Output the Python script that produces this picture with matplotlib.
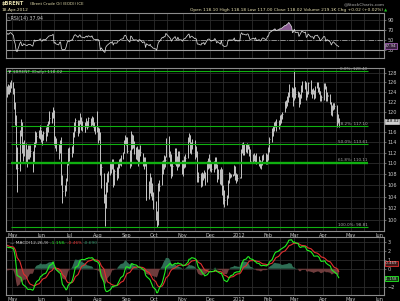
import numpy as np
import pandas as pd
import matplotlib
matplotlib.use('Agg')
import matplotlib.pyplot as plt
import matplotlib.dates as mdates
from matplotlib.offsetbox import TextArea, HPacker, AnchoredOffsetbox

plt.rcParams['font.family'] = ['DejaVu Sans']

# closes before the visible window (only used to warm up RSI / MACD)
warmup_close = [103.0, 101.6, 103.8, 103.0, 102.5, 105.7, 105.8, 111.3, 111.4, 112.1,
                111.8, 115.4, 116.4, 114.8, 116.0, 113.1, 113.0, 115.9, 115.4, 113.8,
                113.7, 108.5, 110.6, 114.9, 114.0, 114.6, 115.6, 115.8, 115.6, 115.6,
                115.0, 115.2, 115.9, 117.4, 118.7, 120.1, 122.2, 122.3, 122.7, 126.7,
                123.9, 120.9, 121.8, 121.9, 123.5, 121.6, 123.2, 123.9, 123.4, 123.4]

# daily bars 25-Apr-2011 .. 18-Apr-2012 (one row per week)
close = [124.1, 124.9, 124.5, 125.5, 125.9,
         124.6, 121.4, 118.7, 110.8, 109.1,
         115.9, 117.7, 112.6, 111.9, 113.9,
         111.5, 111.4, 112.2, 112.4, 112.4,
         110.3, 113.3, 115.7, 114.5, 115.1,
         115.5, 116.7, 115.0, 114.5, 115.8,
         115.8, 116.8, 117.4, 118.6, 118.8,
         119.4, 120.2, 113.9, 114.5, 113.2,
         112.2, 113.9, 114.2, 107.3, 105.1,
         105.4, 107.0, 109.9, 112.5, 111.3,
         112.8, 113.1, 115.5, 117.6, 118.3,
         116.2, 117.9, 118.9, 117.3, 117.2,
         116.6, 117.6, 118.2, 117.5, 118.7,
         117.9, 118.9, 117.5, 116.7, 116.7,
         116.5, 116.5, 115.2, 108.2, 109.4,
         104.0, 102.6, 106.2, 107.3, 108.0,
         109.9, 109.4, 110.6, 106.9, 108.6,
         108.4, 109.9, 110.2, 110.7, 111.4,
         112.0, 114.2, 114.9, 114.3, 112.3,
         110.1, 115.4, 114.9, 113.3, 112.2,
         112.3, 112.0, 110.9, 112.4, 112.2,
         110.0, 110.7, 110.4, 105.5, 108.0,
         106.0, 107.0, 104.6, 104.1, 102.8,
         101.6, 99.8, 102.7, 105.7, 105.9,
         109.9, 109.5, 110.8, 110.6, 114.4,
         112.1, 111.2, 110.2, 107.9, 109.6,
         112.4, 110.1, 109.7, 112.1, 109.9,
         109.6, 108.4, 110.2, 110.6, 111.0,
         114.6, 115.4, 112.4, 113.7, 114.2,
         112.4, 112.6, 111.9, 107.6, 107.6,
         106.6, 108.0, 107.6, 108.2, 106.4,
         110.0, 110.5, 110.5, 109.6, 109.0,
         109.8, 110.8, 109.6, 107.7, 108.6,
         106.6, 109.0, 105.0, 104.4, 103.4,
         103.7, 106.7, 108.0, 107.9, 107.9,
         107.9, 109.3, 107.3, 107.9, 107.4,
         107.4, 112.1, 113.7, 112.7, 113.1,
         112.5, 113.5, 113.4, 112.0, 110.4,
         111.1, 111.3, 110.7, 111.6, 110.0,
         110.6, 109.8, 110.0, 111.1, 111.5,
         110.7, 110.9, 112.5, 112.5, 114.6,
         116.2, 116.7, 117.2, 117.9, 117.3,
         117.9, 118.6, 118.6, 119.0, 119.6,
         121.7, 121.7, 122.9, 123.6, 125.5,
         124.2, 122.0, 122.7, 125.0, 123.6,
         123.8, 121.8, 123.1, 124.4, 126.0,
         125.4, 125.9, 123.1, 123.9, 125.8,
         124.1, 124.2, 124.2, 123.1, 125.1,
         125.7, 124.7, 124.2, 122.6, 122.9,
         125.4, 125.1, 122.5, 123.4, 123.4,
         121.9, 119.9, 120.9, 121.7, 121.2,
         119.0, 118.7, 118.02]

high = [125.3, 125.6, 125.4, 126.1, 126.6,
        126.2, 124.9, 121.9, 119.4, 113.0,
        116.4, 118.6, 117.9, 114.1, 114.4,
        113.9, 112.6, 113.5, 113.4, 113.5,
        112.4, 114.0, 116.2, 115.9, 115.8,
        116.3, 117.3, 116.4, 115.6, 116.2,
        116.9, 117.5, 118.2, 119.7, 120.1,
        119.9, 120.9, 120.4, 115.2, 114.8,
        113.6, 114.4, 115.0, 114.5, 107.9,
        106.1, 107.4, 110.2, 112.8, 113.0,
        113.2, 113.6, 116.0, 118.0, 118.8,
        118.3, 118.4, 119.8, 119.0, 118.1,
        117.6, 118.0, 118.7, 118.2, 119.0,
        118.8, 119.2, 119.0, 117.9, 117.1,
        120.1, 117.0, 116.7, 115.9, 110.3,
        108.3, 104.5, 106.6, 108.3, 108.6,
        110.1, 110.1, 110.8, 110.8, 109.0,
        109.3, 110.1, 110.9, 111.0, 111.6,
        112.2, 114.4, 115.4, 115.0, 115.0,
        112.5, 116.2, 115.5, 115.3, 114.2,
        113.0, 113.2, 112.6, 112.6, 113.5,
        112.0, 111.2, 111.2, 110.0, 108.4,
        106.8, 108.2, 107.6, 106.5, 104.9,
        103.3, 101.6, 102.9, 106.5, 106.9,
        110.4, 110.6, 111.5, 111.3, 114.8,
        115.2, 112.3, 111.8, 110.6, 110.0,
        112.9, 112.8, 111.4, 112.3, 112.3,
        110.6, 109.8, 110.6, 111.4, 111.7,
        114.9, 115.7, 115.3, 114.1, 114.6,
        114.4, 113.2, 113.3, 112.3, 108.4,
        108.3, 108.4, 108.3, 108.7, 108.5,
        110.4, 111.0, 111.7, 110.6, 110.0,
        110.4, 111.1, 111.2, 109.8, 109.0,
        109.0, 109.4, 108.9, 106.0, 105.2,
        104.4, 106.9, 108.4, 108.2, 108.1,
        108.1, 109.7, 109.6, 108.3, 108.1,
        107.6, 112.6, 113.8, 114.0, 113.7,
        113.6, 113.9, 113.6, 113.3, 112.6,
        111.7, 111.9, 111.6, 112.0, 111.8,
        111.3, 110.7, 110.5, 111.6, 111.8,
        112.0, 111.7, 112.7, 113.0, 114.9,
        116.8, 117.1, 117.9, 118.2, 118.6,
        118.3, 119.2, 119.4, 119.5, 120.0,
        122.2, 122.3, 123.1, 124.1, 125.7,
        125.1, 124.9, 123.6, 128.4, 125.0,
        124.2, 124.1, 123.5, 125.4, 126.3,
        126.3, 126.4, 126.0, 124.3, 126.1,
        126.6, 124.7, 124.9, 124.4, 125.3,
        126.0, 126.0, 125.0, 124.3, 123.3,
        125.9, 125.8, 125.3, 123.9, 123.4,
        123.5, 121.9, 121.3, 121.7, 121.8,
        121.3, 119.5, 118.8]

low = [123.0, 123.6, 123.5, 124.0, 124.8,
       123.6, 120.6, 117.3, 109.0, 104.8,
       108.6, 115.2, 111.9, 110.5, 111.4,
       110.3, 109.4, 110.9, 110.9, 111.2,
       108.5, 110.1, 113.1, 113.8, 114.1,
       114.8, 114.6, 114.0, 113.5, 114.4,
       114.3, 115.2, 115.9, 117.5, 117.7,
       117.8, 118.8, 113.5, 112.8, 112.3,
       110.8, 111.9, 113.1, 106.0, 102.9,
       104.1, 105.0, 106.8, 109.7, 110.5,
       111.2, 111.9, 112.6, 115.0, 116.1,
       115.1, 115.7, 117.6, 116.4, 116.1,
       116.0, 116.0, 117.0, 116.6, 117.0,
       117.2, 117.4, 117.0, 116.2, 115.6,
       116.0, 113.9, 114.4, 107.9, 105.5,
       103.0, 99.0, 102.1, 104.9, 106.6,
       107.9, 108.3, 108.9, 105.8, 106.0,
       106.9, 107.4, 109.2, 109.7, 109.5,
       110.8, 111.9, 113.7, 113.5, 112.0,
       109.1, 109.6, 112.6, 112.9, 111.7,
       110.9, 110.6, 109.6, 110.0, 111.4,
       109.6, 109.0, 109.5, 103.5, 103.5,
       103.6, 104.6, 104.1, 103.5, 101.9,
       100.0, 98.81, 99.2, 102.5, 105.0,
       106.0, 108.0, 109.0, 109.4, 111.1,
       111.2, 109.5, 109.6, 107.3, 107.7,
       109.8, 109.5, 108.8, 109.4, 109.5,
       108.1, 107.7, 108.5, 109.2, 109.3,
       111.0, 114.0, 112.0, 111.8, 112.6,
       112.0, 110.8, 111.1, 106.6, 106.6,
       105.7, 105.9, 106.9, 107.3, 106.0,
       106.7, 108.9, 109.2, 108.6, 108.5,
       108.4, 109.0, 109.2, 106.7, 107.1,
       106.3, 106.0, 104.4, 102.8, 102.3,
       102.6, 103.8, 106.4, 107.3, 107.6,
       107.7, 107.8, 107.0, 106.5, 106.8,
       107.3, 107.4, 111.9, 111.6, 111.5,
       112.1, 112.0, 112.6, 111.4, 110.0,
       110.3, 110.5, 110.3, 110.5, 109.8,
       109.6, 109.2, 109.0, 109.7, 110.6,
       109.8, 109.9, 110.7, 112.0, 112.2,
       114.0, 115.2, 116.1, 116.9, 116.2,
       116.6, 117.5, 117.3, 117.8, 118.5,
       119.9, 120.8, 121.2, 122.0, 122.9,
       123.0, 121.5, 121.1, 122.3, 122.7,
       122.9, 121.0, 121.5, 122.8, 124.1,
       124.6, 124.8, 122.3, 122.9, 123.6,
       123.6, 122.8, 123.5, 122.5, 122.8,
       124.9, 124.0, 123.5, 122.2, 122.1,
       122.4, 124.6, 122.1, 122.1, 123.2,
       121.6, 119.3, 119.1, 120.3, 120.6,
       117.0, 117.7, 117.0]

fib_high = 128.40
fib_low = 98.81
fib_pcts = [0.0, 38.2, 50.0, 61.8, 100.0]
price_ticks = [100, 102, 104, 106, 108, 110, 112, 114, 116, 118, 120, 122, 124, 126, 128]
rsi_ticks = [30, 50, 70, 90]
macd_ticks = [-2, 0, 1, 2, 3]
last_close = "118.02"
last_rsi = "37.94"

BG = 'black'
GRID = '#2c2c2c'
AXC = '#8c8c8c'
TXT = '#c8c8c8'
HEAD = '#e6dfae'

dates = pd.bdate_range('2011-04-25', '2012-04-18')
warm_dates = pd.bdate_range(end='2011-04-22', periods=len(warmup_close))
s = pd.Series(warmup_close + close, index=warm_dates.append(dates))

# indicators
delta = s.diff()
up = delta.clip(lower=0).ewm(alpha=1 / 14, adjust=False).mean()
dn = (-delta.clip(upper=0)).ewm(alpha=1 / 14, adjust=False).mean()
rsi = (100 - 100 / (1 + up / dn)).loc[dates]
macd = s.ewm(span=12, adjust=False).mean() - s.ewm(span=26, adjust=False).mean()
signal = macd.ewm(span=9, adjust=False).mean()
hist = (macd - signal).loc[dates]
macd = macd.loc[dates]
signal = signal.loc[dates]

xmin, xmax = pd.Timestamp('2011-04-24'), pd.Timestamp('2012-06-06')

fig = plt.figure(figsize=(4, 3.01), dpi=100, facecolor=BG)
L, W = 6 / 400, 378 / 400
ax_rsi = fig.add_axes([L, 1 - 58 / 301, W, 45 / 301])
ax_p = fig.add_axes([L, 1 - 231 / 301, W, 163 / 301])
ax_m = fig.add_axes([L, 1 - 295 / 301, W, 58 / 301])


def style(ax, xlabels):
    ax.set_facecolor(BG)
    for sp in ax.spines.values():
        sp.set_color(AXC)
        sp.set_linewidth(0.8)
    ax.yaxis.tick_right()
    ax.tick_params(axis='y', colors=AXC, labelcolor=TXT, labelsize=3.6, length=1.5, width=0.5, pad=1)
    ax.tick_params(axis='x', which='both', colors=AXC, labelcolor=TXT, labelsize=3.6, length=0, pad=1.5)
    ax.set_xlim(xmin, xmax)
    ax.xaxis.set_major_locator(mdates.MonthLocator())
    ax.xaxis.set_minor_locator(mdates.MonthLocator(bymonthday=15))
    ax.xaxis.set_major_formatter(plt.FuncFormatter(
        lambda v, p: (lambda d: str(d.year) if d.month == 1 else d.strftime('%b'))(mdates.num2date(v))))
    if not xlabels:
        ax.set_xticklabels([])
    ax.grid(True, which='both', axis='x', color=GRID, lw=0.6)
    ax.grid(True, which='major', axis='y', color=GRID, lw=0.6)
    ax.set_axisbelow(True)


# RSI panel
style(ax_rsi, False)
ax_rsi.set_ylim(14, 104)
ax_rsi.set_yticks(rsi_ticks)
ax_rsi.axhline(70, color='#a0a0a0', lw=0.8)
ax_rsi.axhline(30, color='#a0a0a0', lw=0.8)
ax_rsi.axhline(50, color='#a0a0a0', lw=0.6, ls='-.')
ax_rsi.fill_between(dates, 70, rsi, where=rsi > 70, color='#8a5a92', lw=0, interpolate=True)
ax_rsi.plot(dates, rsi, color='#d8d8d8', lw=0.55)
ax_rsi.text(0.003, 0.93, '\u25b3RSI(14) 37.94', transform=ax_rsi.transAxes, color=TXT,
            fontsize=3.4, va='top', ha='left')
ax_rsi.text(1.003, 37.94, last_rsi, transform=ax_rsi.get_yaxis_transform(), fontsize=3.0,
            color=TXT, va='center', ha='left',
            bbox=dict(boxstyle='square,pad=0.15', fc='#3a2040', ec='#a060b0', lw=0.6))

# price panel
style(ax_p, True)
ax_p.set_yscale('log')
ax_p.set_ylim(98.2, 129.1)
ax_p.set_yticks(price_ticks)
# the 118 label sits under the last-price marker
ax_p.set_yticklabels(['' if t == 118 else str(t) for t in price_ticks])
ax_p.yaxis.set_minor_locator(plt.NullLocator())
ax_p.vlines(dates, low, high, color='#c4c4c4', lw=0.7)
ax_p.hlines(close, dates, dates + pd.Timedelta(hours=14), color='#c4c4c4', lw=0.5)
for pct in fib_pcts:
    lvl = fib_high - (fib_high - fib_low) * pct / 100
    x0 = pd.Timestamp('2011-04-24') if pct == 0 else pd.Timestamp('2011-04-29')
    ax_p.hlines(lvl, x0, pd.Timestamp('2012-05-20'), color='#10b010',
                lw=1.7 if pct == 61.8 else 0.8)
    ax_p.text(pd.Timestamp('2012-05-19'), lvl * 1.001, f'{pct:.1f}%: {lvl:.2f}',
              color='#a8a8a8', fontsize=3.0, ha='right', va='bottom')
ax_p.text(0.006, 0.985, '\u25bc $BRENT (Daily) 118.02', transform=ax_p.transAxes,
          color='#b8b8b8', fontsize=3.2, va='top', ha='left')
ax_p.text(1.003, 118.02, last_close, transform=ax_p.get_yaxis_transform(), fontsize=2.8,
          color='black', va='center', ha='left',
          bbox=dict(boxstyle='square,pad=0.12', fc='#d0d0d0', ec='#d0d0d0', lw=0.5))

# MACD panel
style(ax_m, True)
ax_m.set_ylim(-2.9, 3.5)
ax_m.set_yticks(macd_ticks)
ax_m.fill_between(dates, 0, hist, where=hist >= 0, color='#2f6e55', lw=0, interpolate=True)
ax_m.fill_between(dates, 0, hist, where=hist < 0, color='#6e3c3c', lw=0, interpolate=True)
ax_m.plot(dates, signal, color='#e03030', lw=0.8)
ax_m.plot(dates, macd, color='#20f020', lw=0.8)
parts = [('\u2014 MACD(12,26,9) ', '#d0d0d0'), ('-1.158, ', '#20f020'),
         ('-0.469, ', '#e03030'), ('-0.690', '#2f8e65')]
box = HPacker(children=[TextArea(t, textprops=dict(color=c, fontsize=3.2)) for t, c in parts],
              pad=0, sep=0)
ax_m.add_artist(AnchoredOffsetbox(loc='upper left', child=box, pad=0.1, borderpad=0.2,
                                  frameon=False))
ax_m.text(1.003, 0.6, '-0.469', transform=ax_m.get_yaxis_transform(), fontsize=2.8,
          color=TXT, va='center', ha='left',
          bbox=dict(boxstyle='square,pad=0.12', fc='#401818', ec='#e03030', lw=0.6))
ax_m.text(1.003, -1.1, '-1.158', transform=ax_m.get_yaxis_transform(), fontsize=2.8,
          color=TXT, va='center', ha='left',
          bbox=dict(boxstyle='square,pad=0.12', fc='#103810', ec='#20f020', lw=0.6))

# header
fig.text(0.005, 1 - 4 / 301, '$BRENT', color=HEAD, fontsize=3.6, weight='bold', va='center')
fig.text(0.075, 1 - 4 / 301, '(Brent Crude Oil (EOD)) ICE', color=HEAD, fontsize=2.8, va='center')
fig.text(0.005, 1 - 10 / 301, '18-Apr-2012', color=HEAD, fontsize=3.2, va='center')
fig.text(0.958, 1 - 10 / 301,
         'Open 118.10 High 118.18 Low 117.00 Close 118.02 Volume 219.1K Chg +0.02 (+0.02%)',
         color=HEAD, fontsize=3.2, va='center', ha='right')
fig.text(0.961, 1 - 10 / 301, '\u25b2', color='#20c020', fontsize=3.0, va='center', ha='left')
fig.text(0.962, 1 - 4 / 301, '@StockCharts.com', color='#b0b0b0', fontsize=3.2,
         va='center', ha='right')

fig.savefig('out.png', dpi=100, facecolor=BG)
